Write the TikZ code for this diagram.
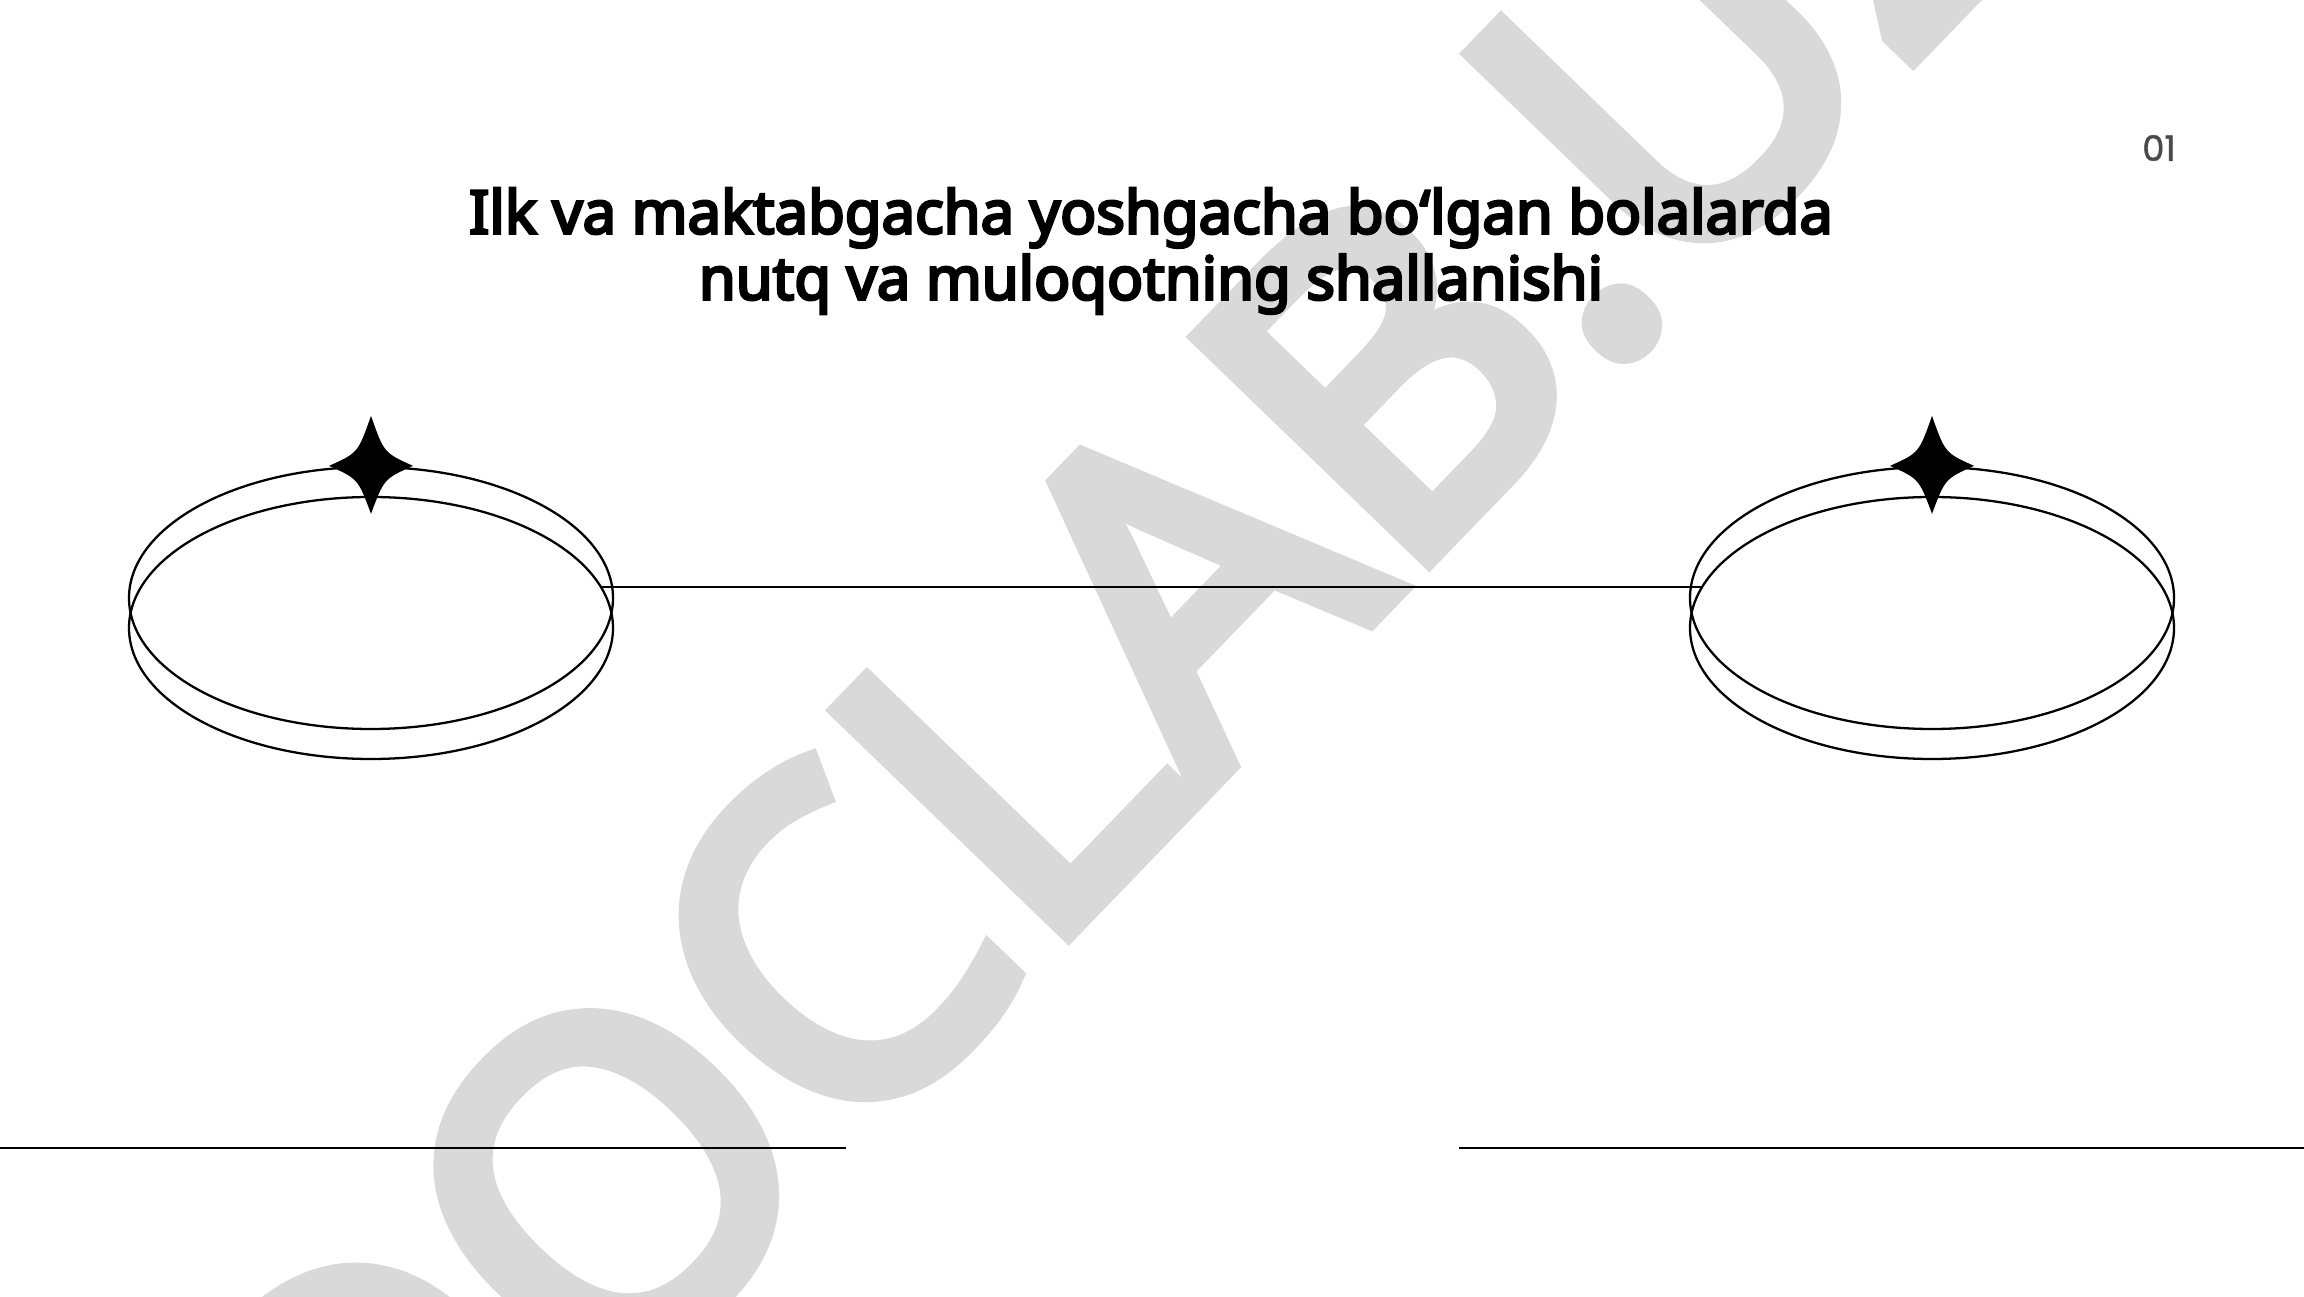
\documentclass[tikz,border=0pt]{standalone}
\usepackage{fontspec}
\usepackage{xcolor}
\usepackage{tikz}
\usetikzlibrary{shapes.geometric, positioning}
\setmainfont{Noto Sans}[AutoFakeBold=4.5]
\newfontfamily\numfont{Poppins}[AutoFakeBold=1.2]
\newfontfamily\markfont{Noto Sans}[AutoFakeBold=4.5]
\definecolor{wmgray}{HTML}{D9D9D9}
\definecolor{numgray}{HTML}{4A4A4A}

\tikzset{
    ring/.style={draw, ellipse, line width=0.65pt, minimum width=4.84cm, minimum height=2.62cm, inner sep=0pt},
    rule/.style={line width=0.8pt}
}

\begin{document}
\begin{tikzpicture}
    \useasboundingbox (0,0) rectangle (23.04,12.96);
    \clip (0,0) rectangle (23.04,12.96);

    \node[
        text=wmgray,
        rotate=46,
        font=\markfont\fontsize{127}{135}\selectfont\bfseries
    ] (watermark) at (11.12,6.38) {DOCLAB.UZ};

    \node[
        font=\fontsize{17}{18.8}\selectfont\bfseries,
        align=center
    ] (title) at (11.51,10.45) {Ilk va maktabgacha yoshgacha bo‘lgan bolalarda\\nutq va muloqotning shallanishi};

    \node[
        font=\numfont\fontsize{10}{12}\selectfont\bfseries,
        text=numgray
    ] (pagenum) at (21.59,11.48) {01};

    \node[ring] (leftA) at (3.71,6.98) {};
    \node[ring] (leftB) at (3.71,6.68) {};
    \node[ring] (rightA) at (19.32,6.98) {};
    \node[ring] (rightB) at (19.32,6.68) {};

    \draw[line width=0.65pt] (leftB.10) -- (rightB.170);

    \foreach \ring in {leftA, rightA} {
        \fill[shift={(\ring.north)}] (0,0.5) .. controls (0.13,0.13) .. (0.42,0)
            .. controls (0.13,-0.13) .. (0,-0.48)
            .. controls (-0.13,-0.13) .. (-0.42,0)
            .. controls (-0.13,0.13) .. cycle;
    }

    \coordinate (lineL1) at (0,1.48);
    \coordinate (lineL2) at (8.46,1.48);
    \coordinate (lineR1) at (14.59,1.48);
    \coordinate (lineR2) at (23.04,1.48);
    \draw[rule] (lineL1) -- (lineL2);
    \draw[rule] (lineR1) -- (lineR2);

\end{tikzpicture}
\end{document}
